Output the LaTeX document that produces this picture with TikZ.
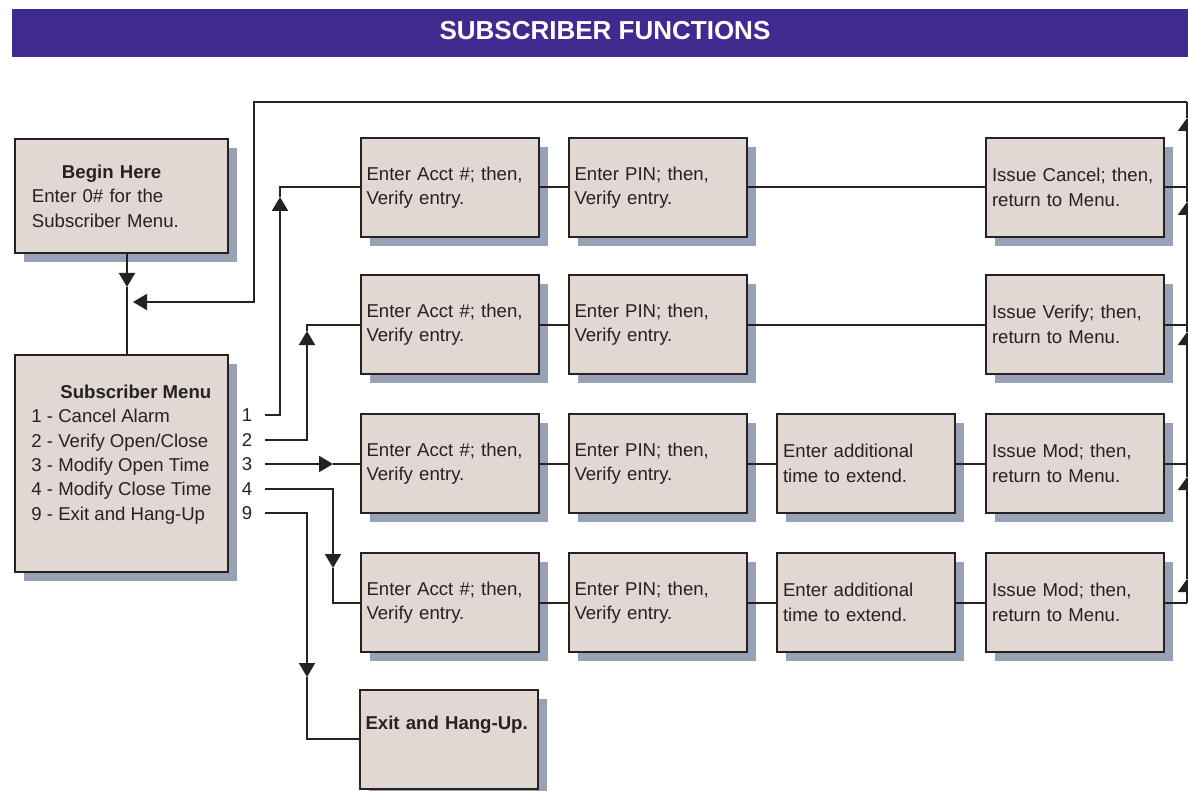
\documentclass[tikz,border=0pt]{standalone}
\usepackage{fontspec}
\setmainfont{Liberation Sans}
\usetikzlibrary{arrows.meta,shadows}
\definecolor{titlec}{RGB}{65,42,143}
\definecolor{boxfill}{RGB}{225,215,211}
\definecolor{shadowc}{RGB}{152,161,181}
\definecolor{inkc}{RGB}{38,34,34}
\tikzset{
	stepbox/.style = {draw=inkc, line width=1pt, fill=boxfill, text=inkc,
		minimum width=88.5pt, minimum height=49.5pt, text width=83pt, inner xsep=3pt,
		align=left, font=\fontsize{9.3}{12.2}\selectfont,
		drop shadow={shadow xshift=4.5pt, shadow yshift=-4.5pt, fill=shadowc, opacity=1}},
	numnode/.style = {text=inkc, inner xsep=6.3pt, font=\fontsize{9.3}{12.2}\selectfont},
	flowline/.style = {draw=inkc, line width=1pt},
	flowarrow/.style = {flowline, -{Triangle[length=7pt, width=8pt]}},
	edgeline/.style = {draw=inkc, line width=1pt},
	edgearrow/.style = {edgeline, -{Triangle[length=6.5pt, width=9pt]}},
}
\begin{document}
\begin{tikzpicture}[x=0.5pt, y=-0.5pt]
	\useasboundingbox (0,0) rectangle (1188,791);
	\fill[titlec] (12,9) rectangle (1188,57);
	\node[text=white, font=\fontsize{13}{15}\selectfont\bfseries] (title) at (605,31) {SUBSCRIBER FUNCTIONS};
	%%%%%%%%%
	\node[stepbox, minimum width=106.5pt, minimum height=57pt, text width=89.5pt, inner xsep=8.5pt] (begin) at (121.5,196)
		{\hspace*{15pt}\textbf{Begin Here}\\Enter 0\# for the\\Subscriber Menu.};
	\node[stepbox, minimum width=106.5pt, minimum height=108.5pt, text width={}, inner xsep=4pt] (menu) at (121.5,463.5)
		{\hspace*{14.5pt}\textbf{Subscriber Menu}\\1 - Cancel Alarm\\2 - Verify Open/Close\\3 - Modify Open Time\\4 - Modify Close Time\\9 - Exit and Hang-Up\\[-5pt] \strut};
	\node[numnode] (n1) at (247,415) {1};
	\node[numnode] (n2) at (247,440) {2};
	\node[numnode] (n3) at (247,464) {3};
	\node[numnode] (n4) at (247,489) {4};
	\node[numnode] (n9) at (247,513) {9};
	%%%%%%%%%
	\node[stepbox] (acct1) at (449.5,187.5) {Enter Acct \#; then,\\Verify entry.};
	\node[stepbox] (pin1) at (657.5,187.5) {Enter PIN; then,\\Verify entry.};
	\node[stepbox] (issue1) at (1075,187.5) {Issue Cancel; then,\\return to Menu.};
	\node[stepbox] (acct2) at (449.5,324.5) {Enter Acct \#; then,\\Verify entry.};
	\node[stepbox] (pin2) at (657.5,324.5) {Enter PIN; then,\\Verify entry.};
	\node[stepbox] (issue2) at (1075,324.5) {Issue Verify; then,\\return to Menu.};
	\node[stepbox] (acct3) at (449.5,463.5) {Enter Acct \#; then,\\Verify entry.};
	\node[stepbox] (pin3) at (657.5,463.5) {Enter PIN; then,\\Verify entry.};
	\node[stepbox] (time3) at (866,463.5) {Enter additional\\time to extend.};
	\node[stepbox] (issue3) at (1075,463.5) {Issue Mod; then,\\return to Menu.};
	\node[stepbox] (acct4) at (449.5,602.5) {Enter Acct \#; then,\\Verify entry.};
	\node[stepbox] (pin4) at (657.5,602.5) {Enter PIN; then,\\Verify entry.};
	\node[stepbox] (time4) at (866,602.5) {Enter additional\\time to extend.};
	\node[stepbox] (issue4) at (1075,602.5) {Issue Mod; then,\\return to Menu.};
	\node[stepbox, font=\fontsize{9.3}{12.2}\selectfont\bfseries] (exit) at (448.5,739) {Exit and Hang-Up.\\ \strut};
	%%%%%%%%%
	\coordinate (d1) at (127,287);
	\draw[flowarrow] (d1 |- begin.south) -- (d1);
	\draw[flowline] (d1) -- (d1 |- menu.north);
	\coordinate (u1) at (280,197);
	\draw[flowarrow] (n1.east) -| (u1);
	\draw[flowline] (u1) |- (acct1.west);
	\coordinate (u2) at (307,331);
	\draw[flowarrow] (n2.east) -| (u2);
	\draw[flowline] (u2) |- (acct2.west);
	\coordinate (u3) at (333,464);
	\draw[flowarrow] (n3.east) -- (n3.east -| u3);
	\draw[flowline] (n3.east -| u3) -- (n3.east -| acct3.west);
	\coordinate (u4) at (333,568);
	\draw[flowarrow] (n4.east) -| (u4);
	\draw[flowline] (u4) |- (acct4.west);
	\coordinate (u9) at (307,677);
	\draw[flowarrow] (n9.east) -| (u9);
	\draw[flowline] (u9) |- (exit.west);
	%%%%%%%%%
	\draw[flowline] (acct1.east) -- (pin1.west);
	\draw[flowline] (pin1.east) -- (issue1.west);
	\draw[flowline] (acct2.east) -- (pin2.west);
	\draw[flowline] (pin2.east) -- (issue2.west);
	\draw[flowline] (acct3.east) -- (pin3.west);
	\draw[flowline] (pin3.east) -- (time3.west);
	\draw[flowline] (time3.east) -- (issue3.west);
	\draw[flowline] (acct4.east) -- (pin4.west);
	\draw[flowline] (pin4.east) -- (time4.west);
	\draw[flowline] (time4.east) -- (issue4.west);
	%%%%%%%%%
	\coordinate (r1) at (1187,187.5);
	\coordinate (r2) at (1187,324.5);
	\coordinate (r3) at (1187,463.5);
	\coordinate (r4) at (1187,602.5);
	\draw[flowline] (issue1.east) -- (r1);
	\draw[flowline] (issue2.east) -- (r2);
	\draw[flowline] (issue3.east) -- (r3);
	\draw[flowline] (issue4.east) -- (r4);
	\coordinate (e1) at (1187,579);
	\coordinate (e2) at (1187,477);
	\coordinate (e3) at (1187,332);
	\coordinate (e4) at (1187,202);
	\coordinate (e5) at (1187,118);
	\coordinate (rt) at (1187,102);
	\coordinate (lt) at (254,102);
	\coordinate (lm) at (254,302);
	\coordinate (lx) at (133,302);
	\draw[edgearrow] (r4) -- (e1);
	\draw[edgearrow] (e1) -- (e2);
	\draw[edgearrow] (e2) -- (e3);
	\draw[edgearrow] (e3) -- (e4);
	\draw[edgearrow] (e4) -- (e5);
	\draw[edgeline] (e5) -- (rt);
	\draw[flowarrow] (rt) -- (lt) -- (lm) -- (lx);
\end{tikzpicture}
\end{document}
